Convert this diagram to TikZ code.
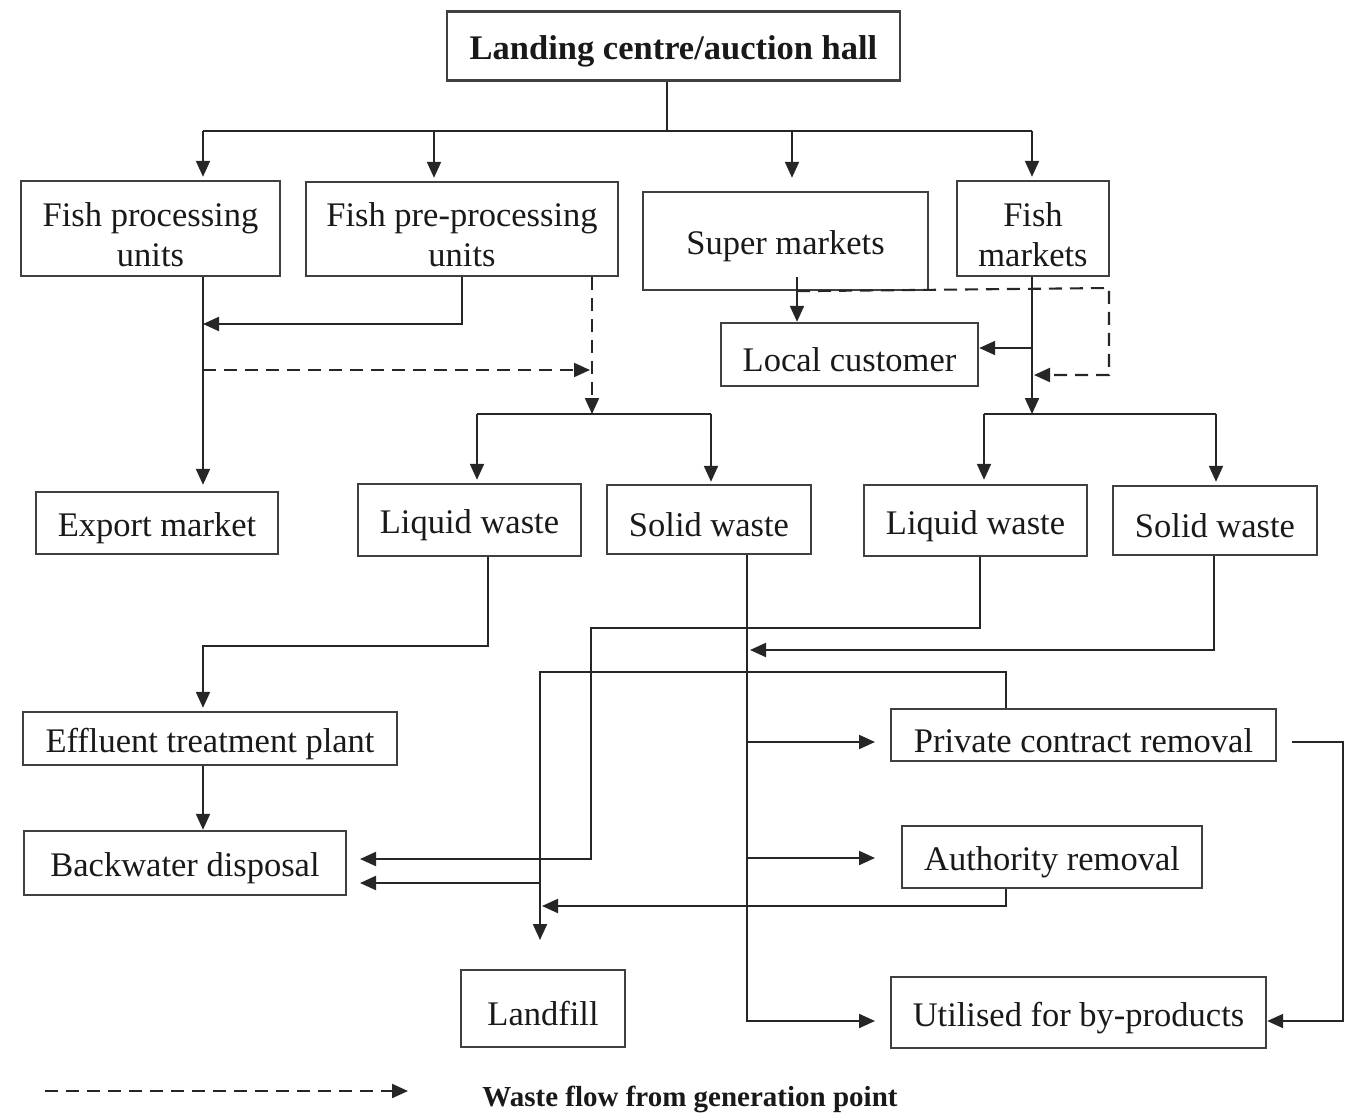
\documentclass[tikz,border=0pt]{standalone}
\usepackage{fontspec}
\setmainfont{Liberation Serif}
\usetikzlibrary{arrows.meta,calc}
\begin{document}
\begin{tikzpicture}[x=1pt,y=-1pt,
  box/.style={draw=black!75, line width=2.4pt, rectangle, inner sep=0pt, align=center,
    text=black!90, font=\fontsize{34.5}{40}\selectfont,
    execute at begin node={\rule{0pt}{35pt}}},
  two/.style={text height=75pt, text depth=0pt},
  ln/.style={line width=2.1pt, draw=black!85},
  arr/.style={ln, -{Triangle[length=16pt,width=14pt]}},
  dsh/.style={ln, dash pattern=on 13pt off 8pt},
  darr/.style={dsh, -{Triangle[length=16pt,width=14pt]}}]
\useasboundingbox (0,0) rectangle (1357,1113);

% boxes
\node[box, minimum width=453pt, minimum height=69pt, font=\fontsize{34.5}{40}\selectfont\bfseries] (land) at (673.5,46) {Landing centre/auction hall};
\node[box, two, minimum width=259pt, minimum height=95pt] (fpu) at (150.5,228.5) {Fish processing\\units};
\node[box, two, minimum width=312pt, minimum height=94pt] (fppu) at (462,229) {Fish pre-processing\\units};
\node[box, minimum width=285pt, minimum height=98pt] (sm) at (785.5,241) {Super markets};
\node[box, two, minimum width=152pt, minimum height=95pt] (fm) at (1033,228.5) {Fish\\markets};
\node[box, minimum width=257pt, minimum height=63pt] (lc) at (849.5,354.5) {Local customer};
\node[box, minimum width=242pt, minimum height=62pt] (exp) at (157,523) {Export market};
\node[box, minimum width=223pt, minimum height=72pt] (lw1) at (469.5,520) {Liquid waste};
\node[box, minimum width=204pt, minimum height=69pt] (sw1) at (709,519.5) {Solid waste};
\node[box, minimum width=223pt, minimum height=71pt] (lw2) at (975.5,520.5) {Liquid waste};
\node[box, minimum width=204pt, minimum height=69pt] (sw2) at (1215,520.5) {Solid waste};
\node[box, minimum width=374pt, minimum height=53pt] (etp) at (210,738.5) {Effluent treatment plant};
\node[box, minimum width=322pt, minimum height=64pt] (bw) at (185,863) {Backwater disposal};
\node[box, minimum width=385pt, minimum height=52pt] (pcr) at (1083.5,735) {Private contract removal};
\node[box, minimum width=300pt, minimum height=62pt] (ar) at (1052,857) {Authority removal};
\node[box, minimum width=164pt, minimum height=77pt] (lf) at (543,1008.5) {Landfill};
\node[box, minimum width=375pt, minimum height=71pt] (ubp) at (1078.5,1012.5) {Utilised for by-products};

% helper x positions
\coordinate (xa) at (203,0);
\coordinate (xb) at (434,0);
\coordinate (xc) at (792,0);
\coordinate (xd) at (1032,0);
\coordinate (xe) at (462,0);
\coordinate (xf) at (592,0);
\coordinate (xg) at (797,0);
\coordinate (xi) at (477,0);
\coordinate (xj) at (711,0);
\coordinate (xk) at (984,0);
\coordinate (xl) at (1216,0);
\coordinate (xm) at (488,0);
\coordinate (xn) at (747,0);
\coordinate (xo) at (980,0);
\coordinate (xq) at (1214,0);
\coordinate (xr) at (1006,0);

% top distribution
\coordinate (bus) at (667,131);
\draw[ln] (land.south -| bus) -- (bus);
\draw[ln] (203,131) -- (1032,131);
\draw[arr] (203,131) -- ([yshift=3pt]fpu.north -| xa);
\draw[arr] (434,131) -- ([yshift=3pt]fppu.north -| xb);
\draw[arr] (792,131) -- ([yshift=13pt]sm.north -| xc);
\draw[arr] (1032,131) -- ([yshift=3pt]fm.north -| xd);

% processing units
\draw[arr] (fpu.south -| xa) -- ([yshift=6pt]exp.north -| xa);
\draw[arr] (fppu.south -| xe) |- (203,324);
\draw[darr] (203,370) -- (590,370);
\draw[darr] (fppu.south -| xf) -- (592,414);
\draw[ln] (477,414) -- (711,414);
\draw[arr] (477,414) -- ([yshift=3pt]lw1.north -| xi);
\draw[arr] (711,414) -- ([yshift=2pt]sw1.north -| xj);

% markets
\draw[arr] ([yshift=14pt]sm.south -| xg) -- (lc.north -| xg);
\draw[darr] (sm.south -| xg) -- (1109,288) -- (1109,375) -- (1034,375);
\draw[arr] (fm.south -| xd) -- (1032,414);
\draw[arr] (1032,348) -- ([yshift=6.5pt]lc.east);
\draw[ln] (984,414) -- (1216,414);
\draw[arr] (984,414) -- ([yshift=4pt]lw2.north -| xk);
\draw[arr] (1216,414) -- ([yshift=3pt]sw2.north -| xl);

% liquid waste 1
\draw[arr] (lw1.south -| xm) |- (203,646) -- ([yshift=3pt]etp.north -| xa);
\draw[arr] (etp.south -| xa) -- (bw.north -| xa);

% solid waste 1
\draw[arr] (sw1.south -| xn) |- (875,1021);
\draw[arr] (747,742) -- (875,742);
\draw[arr] (747,858) -- (875,858);

% liquid waste 2
\draw[arr] (lw2.south -| xo) |- (591,628) |- (360,859);

% solid waste 2
\draw[arr] (sw2.south -| xq) |- (750,650);

% private contract removal
\draw[arr] (pcr.north -| xr) |- (540,672) -- (540,940);
\draw[arr] (540,883) -- (360,883);
\draw[arr] (1292,742) -| (1343,1021) -- (ubp.east |- 0,1021);

% authority removal
\draw[arr] (ar.south -| xr) |- (542,906);

% legend
\coordinate (lg0) at (45,1091);
\coordinate (lg1) at (408,1091);
\draw[darr] (lg0) -- (lg1);
\node[font=\fontsize{29}{32}\selectfont\bfseries, text=black!90] (leg) at (690,1099) {Waste flow from generation point};
\end{tikzpicture}
\end{document}
